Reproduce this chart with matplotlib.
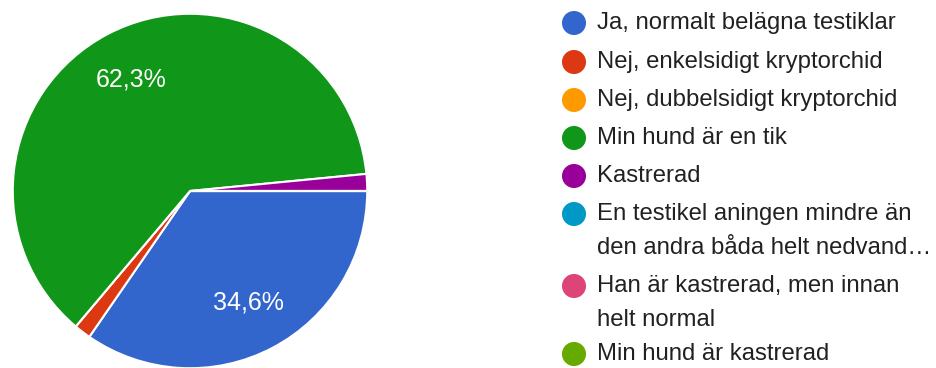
import matplotlib.pyplot as plt

plt.rcParams['font.family'] = ['Liberation Sans', 'DejaVu Sans']

labels = ['Ja, normalt belägna testiklar',
          'Nej, enkelsidigt kryptorchid',
          'Nej, dubbelsidigt kryptorchid',
          'Min hund är en tik',
          'Kastrerad',
          'En testikel aningen mindre än\nden andra båda helt nedvand…',
          'Han är kastrerad, men innan\nhelt normal',
          'Min hund är kastrerad']
counts = [45, 2, 0, 81, 2, 0, 0, 0]
colors = ['#3366cc', '#dc3912', '#ff9900', '#109618',
          '#990099', '#0099c6', '#dd4477', '#66aa00']

W, H = 936, 368
fig = plt.figure(figsize=(W / 100, H / 100), dpi=100)

# pie: centre (190,191) px, radius 179 px
cx, cy, r = 190, 191, 179
ax = fig.add_axes([(cx - r) / W, (H - cy - r) / H, 2 * r / W, 2 * r / H])


def pct(p):
    return f'{p:.1f}%'.replace('.', ',') if p > 5 else ''


wedges, texts, autotexts = ax.pie(
    counts, colors=colors, startangle=0, counterclock=False,
    autopct=pct, pctdistance=0.71, radius=1,
    wedgeprops=dict(edgecolor='white', linewidth=1.5))
for t in autotexts:
    t.set_color('white')
    t.set_fontsize(18)
ax.set_xlim(-1.01, 1.01)
ax.set_ylim(-1.01, 1.01)
ax.set_aspect('equal')

# legend drawn in pixel coordinates
lax = fig.add_axes([0, 0, 1, 1])
lax.set_xlim(0, W)
lax.set_ylim(H, 0)
lax.axis('off')
row_y = [23, 62, 100, 138, 176, 214, 286, 354]
for lab, col, y in zip(labels, colors, row_y):
    lax.scatter([574], [y], s=24 ** 2 * 0.52, color=col, edgecolors='none')
    for k, line in enumerate(lab.split('\n')):
        lax.text(597, y + k * 34, line, fontsize=17.2, color='#212121',
                 va='center', ha='left')

fig.savefig('out.png', dpi=100, facecolor='white')
